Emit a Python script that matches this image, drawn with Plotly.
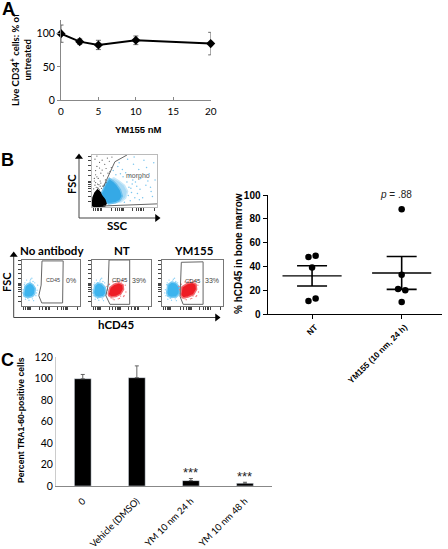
import plotly.graph_objects as go

W, H = 448, 549
SANS = "Liberation Sans"
CAL = "Lato"

# Panel A
dose = [0, 2.5, 5, 10, 20]
live = [100, 88, 83, 90, 85]
live_err = [13, 4, 7, 6.5, 17]

# Panel B scatter
nt_x = [-0.04, 0.04, 0, -0.04, 0.04]
nt_y = [48, 49, 39, 11, 13]
ym_x = [0.96, 1.04, 1, 1, 1]
ym_y = [21, 20, 88, 33, 10]
group_pos = [0, 1]
group_names = ["NT", "YM155 (10 nm, 24 h)"]
group_mean = [32, 34.5]
group_sem = [8.5, 13.8]

# Panel C
c_cats = ["0", "Vehicle (DMSO)", "YM 10 nm 24 h", "YM 10 nm 48 h"]
c_vals = [100, 101, 5, 2.5]
c_err = [4, 11, 2, 1]

# Flow plots, in percent of each plot frame
m_gate_x = [54, 35.5, 18, None, 18, 71, 100]
m_gate_y = [100, 87, 39, None, 2, 4.5, 6]
m_black_x = [1, 2, 5, 9, 13, 15, 20, 22, 20, 14, 6, 1]
m_black_y = [2, 18, 27, 33, 28, 22, 14, 7, 2, 1, 1, 2]
m_blue_x = [14, 18, 21, 27, 33, 38, 44, 47, 43, 36, 26, 19]
m_blue_y = [24, 34, 44, 55, 50, 44, 33, 21, 12, 8, 6, 10]
m_pale_x = [27, 34, 42, 50, 55, 52, 45, 36]
m_pale_y = [52, 56, 50, 42, 30, 17, 10, 8]
m_dark_x = [5, 8, 12, 16, 20, 24, 6, 10, 14, 18, 22, 27, 31, 9, 13, 17, 21, 7, 11, 15, 25, 30, 4, 19, 12, 16, 8, 6, 22, 28,
            3, 5, 9, 13, 6, 10, 14, 4, 8, 12]
m_dark_y = [92, 78, 86, 71, 82, 94, 62, 55, 65, 60, 74, 88, 96, 44, 50, 40, 52, 38, 43, 36, 65, 76, 50, 42, 75, 90, 98, 70, 47, 68,
            35, 42, 37, 40, 47, 36, 46, 55, 58, 33]
m_lblue_x = [58, 64, 72, 80, 88, 95, 67, 75, 83, 91, 60, 70, 78, 86, 93, 55, 47, 42, 65, 73, 52, 84, 97, 40, 90,
             57, 61, 54, 66, 48, 59, 69, 44, 37, 33, 56, 63, 74, 50, 62]
m_lblue_y = [60, 82, 72, 90, 64, 85, 48, 55, 42, 30, 36, 26, 18, 50, 20, 92, 72, 85, 96, 14, 66, 76, 52, 78, 38,
             38, 28, 48, 18, 58, 12, 40, 64, 62, 70, 22, 52, 34, 9, 44]

gate_no_x = [34.5, 71, 70, 34, 29, 33, 34.5]
gate_no_y = [98, 98, 6, 6, 22, 45, 98]
gate_nt_x = [29.4, 64.4, 64.4, 31, 24, 28, 29.4]
gate_nt_y = [100, 100, 3, 3, 22, 45, 100]
gate_ym_x = [32, 67.5, 67.5, 35, 30, 31, 32]
gate_ym_y = [95, 96, 3, 3, 20, 45, 95]

blue_no_x = [3, 5, 9, 14, 19, 23, 22, 18, 12, 6, 3]
blue_no_y = [27, 42, 47, 50, 46, 38, 26, 20, 18, 19, 22]
blue_nt_x = [3, 5, 10, 17, 23, 24, 20, 12, 6]
blue_nt_y = [28, 44, 50, 48, 40, 27, 20, 18, 20]
blue_ym_x = [8, 10, 16, 23, 29, 29, 24, 15, 10]
blue_ym_y = [28, 46, 52, 50, 41, 27, 19, 18, 21]
red_nt_x = [28, 31, 38, 46, 53, 54, 49, 41, 33, 29]
red_nt_y = [27, 40, 47, 50, 46, 36, 25, 20, 19, 22]
red_ym_x = [31, 33, 41, 50, 56, 57, 52, 43, 35, 32]
red_ym_y = [25, 41, 48, 51, 47, 36, 24, 19, 17, 20]
speck_x = [8, 15, 22, 5, 26, 12, 20, 27, 3, 17, 2, 1, 10, 24, 6, 14, 19, 25, 4, 18]
speck_y = [56, 58, 50, 50, 34, 12, 11, 45, 22, 60, 35, 28, 16, 22, 14, 54, 53, 28, 46, 15]
red_speck_x = [30, 36, 44, 52, 57, 58, 47, 38, 29, 55, 33, 41, 50, 27, 31, 45, 54, 36, 49, 26]
red_speck_y = [47, 52, 56, 55, 45, 30, 16, 13, 30, 22, 17, 53, 52, 35, 20, 15, 20, 15, 21, 42]
log_ticks = [3, 6, 9, 11, 13, 15, 30, 36, 40, 43, 45, 47, 48, 62, 68, 72, 75, 77, 79, 96]
y_ticks = [10, 20, 30, 36, 40, 44, 47, 49, 60, 70, 80, 90, 98]

# Arrow axes of panel B, on the page overlay
arrow_x = [79, 79, None, 79, 157, None, 13.7, 13.7, None, 13.7, 217]
arrow_y = [218, 158, None, 218, 218, None, 317.5, 256, None, 317.5, 317.5]
head_up_x, head_up_y = [79, 13.7], [157, 255]
head_right_x, head_right_y = [157, 217], [218, 317.5]


def X(px):
    return px / W


def Y(py):
    return 1 - py / H


fig = go.Figure()

# ---- A
fig.add_trace(go.Scatter(x=dose, y=live, mode="lines+markers", xaxis="x", yaxis="y", cliponaxis=False,
                         line=dict(color="black", width=2), marker=dict(symbol="diamond", size=7, color="black"),
                         error_y=dict(type="data", array=live_err, color="#444", thickness=0.8, width=2.5)))

# ---- B scatter
for xs, ys in ((nt_x, nt_y), (ym_x, ym_y)):
    fig.add_trace(go.Scatter(x=xs, y=ys, mode="markers", xaxis="x2", yaxis="y2",
                             marker=dict(size=6.5, color="black")))
fig.add_trace(go.Scatter(x=group_pos, y=group_mean, mode="markers", xaxis="x2", yaxis="y2",
                         marker=dict(size=1, color="black"),
                         error_x=dict(type="constant", value=0.33, color="black", thickness=1.4, width=0),
                         error_y=dict(type="data", array=group_sem, color="black", thickness=1.6, width=15)))

# ---- C
fig.add_trace(go.Bar(x=c_cats, y=c_vals, xaxis="x3", yaxis="y3", marker=dict(color="black"), width=0.31,
                     error_y=dict(type="data", array=c_err, arrayminus=[0, 0, 0, 0], color="#555", thickness=0.9, width=2)))


# ---- flow panels
def poly(xs, ys, ax, color, edge=None):
    fig.add_trace(go.Scatter(x=xs + xs[:1], y=ys + ys[:1], mode="lines", fill="toself", fillcolor=color,
                             xaxis="x" + ax, yaxis="y" + ax, line=dict(color=edge or color, width=1.5)))


def dots(xs, ys, ax, color, size=1.4):
    fig.add_trace(go.Scatter(x=xs, y=ys, mode="markers", xaxis="x" + ax, yaxis="y" + ax,
                             marker=dict(size=size, color=color)))


def gate(xs, ys, ax):
    fig.add_trace(go.Scatter(x=xs, y=ys, mode="lines", xaxis="x" + ax, yaxis="y" + ax,
                             line=dict(color="#666", width=1)))


dots(m_lblue_x, m_lblue_y, "4", "#7cc6ef", 1.5)
poly(m_pale_x, m_pale_y, "4", "#a9daf5", "#c9e8f9")
poly(m_blue_x, m_blue_y, "4", "#35a9e6", "#6cc1ee")
dots(m_dark_x, m_dark_y, "4", "#555", 1.2)
poly(m_black_x, m_black_y, "4", "black")
gate(m_gate_x, m_gate_y, "4")

poly(blue_no_x, blue_no_y, "5", "#3cb4ee", "#7ccbf3")
dots(speck_x, speck_y, "5", "#8ed2f5")
gate(gate_no_x, gate_no_y, "5")

poly(blue_nt_x, blue_nt_y, "6", "#3cb4ee", "#7ccbf3")
dots(speck_x, speck_y, "6", "#8ed2f5")
poly(red_nt_x, red_nt_y, "6", "#ee1c25", "#f2686d")
dots(red_speck_x, red_speck_y, "6", "#f27d80")
gate(gate_nt_x, gate_nt_y, "6")

poly(blue_ym_x, blue_ym_y, "7", "#3cb4ee", "#7ccbf3")
dots([v + 4 for v in speck_x], speck_y, "7", "#8ed2f5")
poly(red_ym_x, red_ym_y, "7", "#ee1c25", "#f2686d")
dots([v + 2 for v in red_speck_x], red_speck_y, "7", "#f27d80")
gate(gate_ym_x, gate_ym_y, "7")

# ---- page overlay for the arrow axes
fig.add_trace(go.Scatter(x=arrow_x, y=arrow_y, mode="lines", xaxis="x8", yaxis="y8", line=dict(color="#444", width=1)))
fig.add_trace(go.Scatter(x=head_up_x, y=head_up_y, mode="markers", xaxis="x8", yaxis="y8",
                         marker=dict(symbol="triangle-up", size=7, color="black")))
fig.add_trace(go.Scatter(x=head_right_x, y=head_right_y, mode="markers", xaxis="x8", yaxis="y8",
                         marker=dict(symbol="triangle-right", size=7, color="black")))


def flow_axes(x0, x1, y0, y1, anchor):
    xa = dict(domain=[X(x0), X(x1)], range=[0, 100], anchor="y" + anchor, showgrid=False, zeroline=False,
              showline=True, mirror=True, linecolor="#777", linewidth=1, ticks="outside", ticklen=3, tickwidth=0.8,
              tickcolor="#444", tickvals=log_ticks, showticklabels=False)
    ya = dict(domain=[Y(y1), Y(y0)], range=[0, 100], anchor="x" + anchor, showgrid=False, zeroline=False,
              showline=True, mirror=True, linecolor="#777", linewidth=1, ticks="outside", ticklen=3, tickwidth=0.8,
              tickcolor="#444", tickvals=y_ticks, showticklabels=False)
    return xa, ya


xa4, ya4 = flow_axes(91.7, 157, 155, 207, "4")
xa5, ya5 = flow_axes(22, 80, 260, 305.7, "5")
xa6, ya6 = flow_axes(91.7, 150.7, 260, 305.7, "6")
xa7, ya7 = flow_axes(161.7, 223, 260, 305.7, "7")
xa4["linecolor"] = ya4["linecolor"] = "#bbb"


def txt(text, px, py, size=10, bold=False, family=SANS, rot=0, color="black"):
    if bold:
        text = "<b>" + text + "</b>"
    return dict(text=text, x=X(px), y=Y(py), xref="paper", yref="paper", showarrow=False, textangle=rot,
                xanchor="center", yanchor="middle", align="center", font=dict(size=size, family=family, color=color))


ann = [
    txt("A", 8, 9, 18, True), txt("B", 7, 160, 18, True), txt("C", 7, 360, 18, True),
    txt("Live CD34<sup>+</sup> cells: % of<br>untreated", 20, 60, 9.5, True, CAL, -90),
    txt("YM155 nM", 138, 130, 9.5, True),
    txt("FSC", 71, 184, 11, True, CAL, -90), txt("SSC", 117, 225, 11.5, True, CAL),
    txt("morpho", 138, 176, 7, False, SANS, 0, "#555"),
    txt("No antibody", 52, 250, 11.5, True, CAL), txt("NT", 122, 250, 11.5, True, CAL),
    txt("YM155", 194, 250, 11.5, True, CAL),
    txt("FSC", 6, 282, 11, True, CAL, -90), txt("hCD45", 116, 324, 11.5, True, CAL),
    txt("CD45", 53, 280, 5.5, False, SANS, 0, "#444"), txt("0%", 71, 280, 7, False, SANS, 0, "#444"),
    txt("CD45", 120, 280, 6, False, SANS, 0, "#333"), txt("39%", 139, 280, 7, False, SANS, 0, "#444"),
    txt("CD45", 193, 281, 6, False, SANS, 0, "#333"), txt("33%", 212, 280, 7, False, SANS, 0, "#444"),
    txt("% hCD45 in bone marrow", 239, 254, 10, True, SANS, -90),
    txt("<i>p</i> = .88", 396, 195, 10, False, SANS, 0, "#222"),
    txt("Percent TRA1-60-positive cells", 21, 420, 8.6, True, SANS, -90),
]
for cat, val, err in zip(c_cats, c_vals, c_err):
    if val < 10:
        ann.append(dict(text="***", x=cat, y=val + err, xref="x3", yref="y3", showarrow=False, yanchor="bottom", yshift=-4,
                        font=dict(size=13, family=SANS, color="#222")))

fig.update_layout(
    width=W, height=H, autosize=False, margin=dict(l=0, r=0, t=0, b=0), paper_bgcolor="white", plot_bgcolor="rgba(0,0,0,0)",
    showlegend=False, bargap=0.69, annotations=ann, font=dict(family=SANS, color="black"),
    xaxis=dict(domain=[X(61), X(210.7)], range=[0, 20], anchor="y", tickvals=[0, 5, 10, 15, 20], showgrid=False, zeroline=False,
               showline=True, linecolor="#888", linewidth=1, ticks="inside", ticklen=3, tickcolor="#888",
               tickfont=dict(size=10, family=CAL), ticklabelstandoff=2),
    yaxis=dict(domain=[Y(100), Y(20.4)], range=[0, 120], anchor="x", tickvals=[0, 50, 100], showgrid=False, zeroline=False,
               showline=True, linecolor="#888", linewidth=1, ticks="outside", ticklen=3, tickcolor="#888",
               tickfont=dict(size=10.5, family=CAL)),
    xaxis2=dict(domain=[X(267.7), X(442)], range=[-0.495, 1.45], anchor="y2", tickvals=group_pos, ticktext=group_names,
                tickangle=-45, showgrid=False, zeroline=False, showline=True, linecolor="black", linewidth=1.3,
                ticks="outside", ticklen=4, tickcolor="black", tickwidth=1.3, ticklabelshift=3,
                tickfont=dict(size=8.3, family=SANS, weight="bold")),
    yaxis2=dict(domain=[Y(314), Y(195)], range=[0, 100], anchor="x2", tickvals=[0, 20, 40, 60, 80, 100], showgrid=False,
                zeroline=False, showline=True, linecolor="black", linewidth=1.3, ticks="outside", ticklen=4, tickcolor="black",
                tickwidth=1.3, tickfont=dict(size=10, family=SANS, weight="bold")),
    xaxis3=dict(domain=[X(56), X(272)], range=[-0.495, 3.5], anchor="y3", type="category", tickangle=-45, showgrid=False,
                zeroline=False, showline=True, linecolor="#888", linewidth=1, ticks="", ticklabelstandoff=5,
                tickfont=dict(size=9.4, family=CAL)),
    yaxis3=dict(domain=[Y(486), Y(357.3)], range=[0, 120], anchor="x3", tickvals=[0, 20, 40, 60, 80, 100, 120], showgrid=False,
                zeroline=False, showline=True, linecolor="#ccc", linewidth=1, ticks="", tickfont=dict(size=10.5, family=CAL)),
    xaxis4=xa4, yaxis4=ya4, xaxis5=xa5, yaxis5=ya5, xaxis6=xa6, yaxis6=ya6, xaxis7=xa7, yaxis7=ya7,
    xaxis8=dict(domain=[0, 1], range=[0, W], anchor="y8", visible=False, fixedrange=True),
    yaxis8=dict(domain=[0, 1], range=[H, 0], anchor="x8", visible=False, fixedrange=True),
)
fig.update_xaxes(automargin=False)
fig.update_yaxes(automargin=False)

fig.write_html("out.html", config=dict(displayModeBar=False), post_script="document.body.style.margin='0';")
